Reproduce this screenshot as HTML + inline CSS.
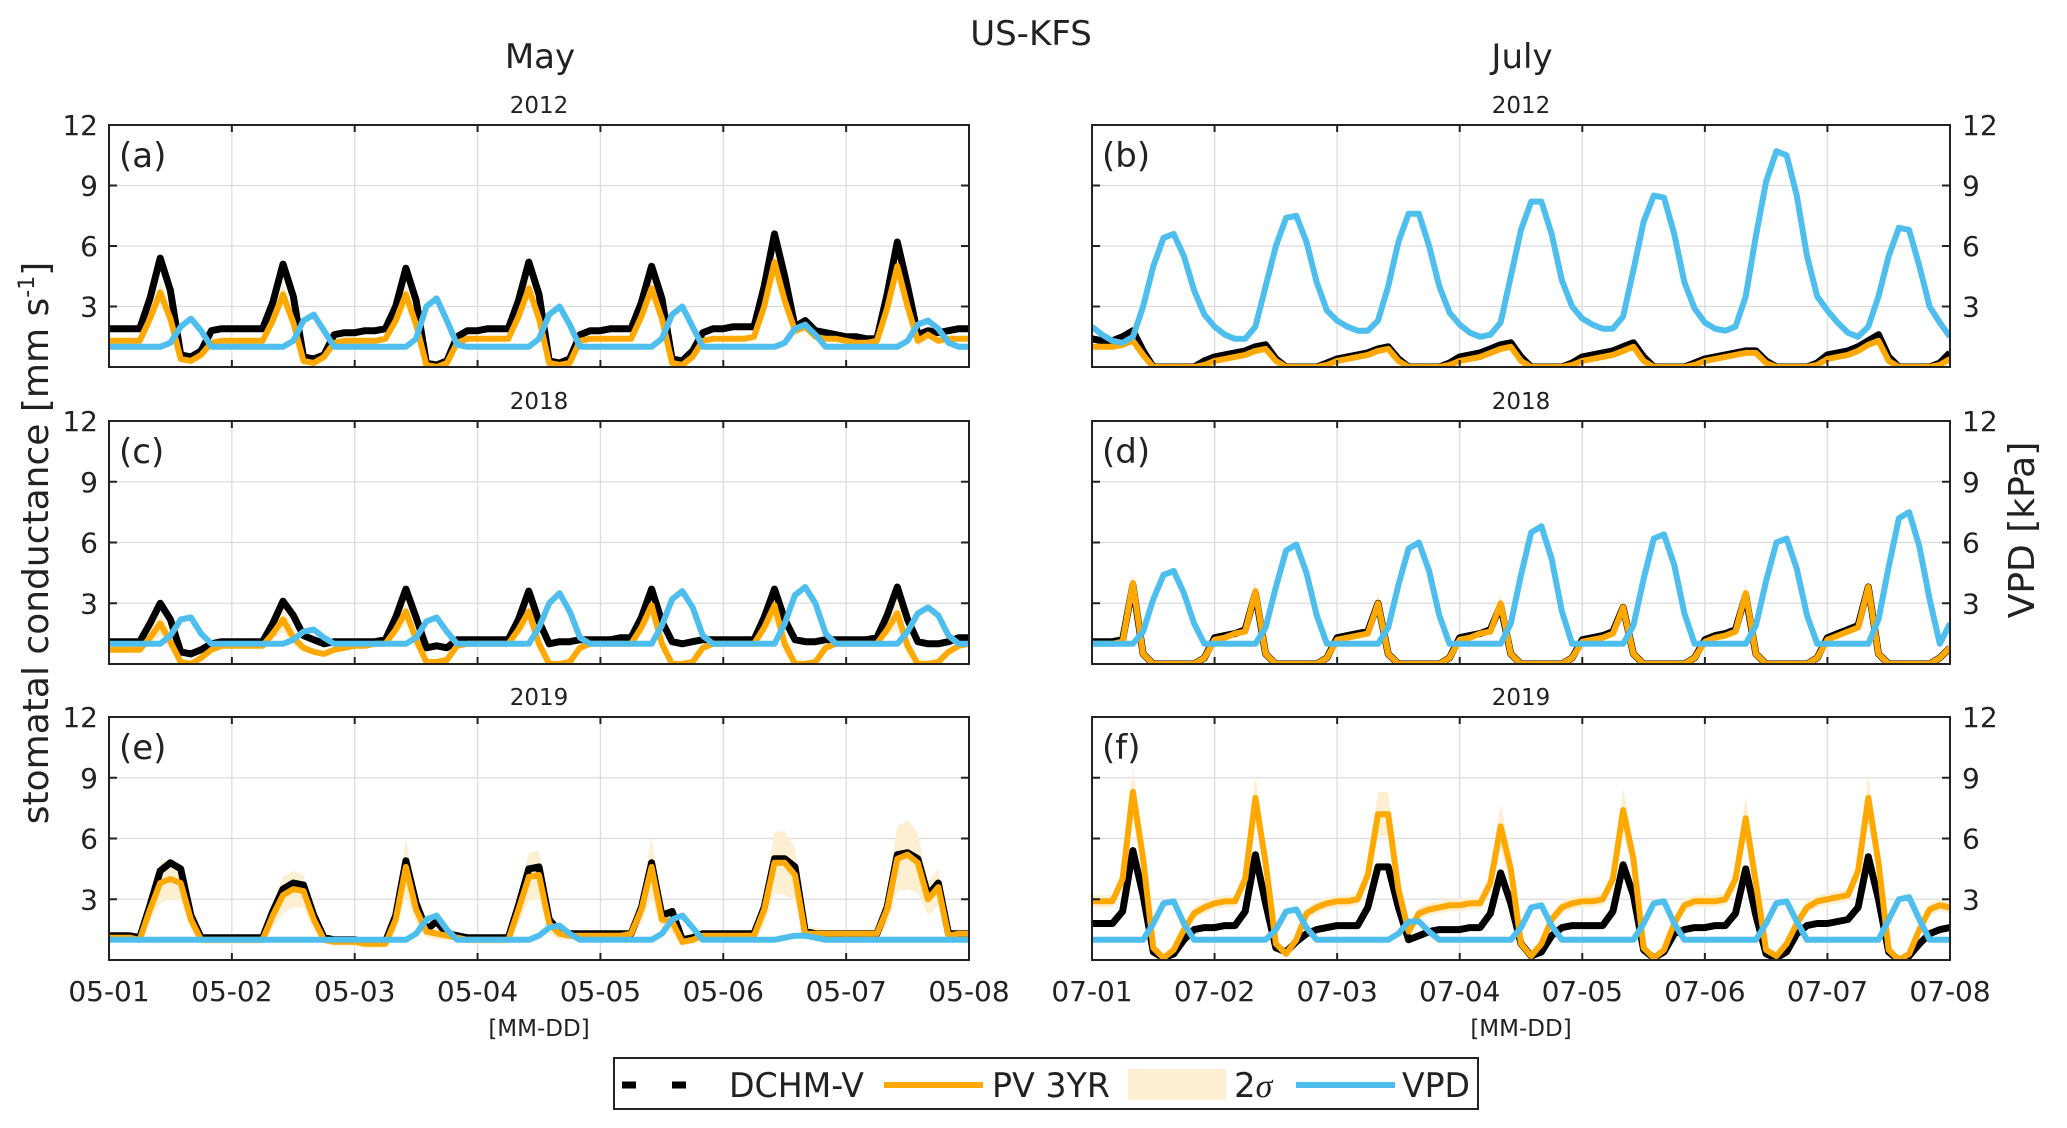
<!DOCTYPE html>
<html><head><meta charset="utf-8"><style>
html,body{margin:0;padding:0;background:#fff}
svg{display:block}
text{font-family:"DejaVu Sans","Liberation Sans",sans-serif;fill:#222}
</style></head><body>
<svg id="fig" width="2067" height="1128" viewBox="0 0 2067 1128" xmlns="http://www.w3.org/2000/svg">
<text x="1031" y="45" font-size="34" text-anchor="middle">US-KFS</text>
<text x="540" y="68" font-size="34" text-anchor="middle">May</text>
<text x="1522" y="68" font-size="34" text-anchor="middle">July</text>
<text transform="translate(48,543) rotate(-90)" font-size="36" text-anchor="middle">stomatal conductance [mm s<tspan font-size="22" dy="-14">-1</tspan><tspan dy="14">]</tspan></text>
<text transform="translate(2034,530) rotate(-90)" font-size="36" text-anchor="middle">VPD  [kPa]</text>
<g id="panels"></g>
<g>
<rect x="614" y="1058" width="864" height="51" fill="#fff" stroke="#222" stroke-width="2"/>
<line x1="622" y1="1085" x2="698" y2="1085" stroke="#000" stroke-width="7" stroke-dasharray="14,36"/>
<text x="729" y="1097" font-size="34" textLength="135" lengthAdjust="spacingAndGlyphs">DCHM-V</text>
<line x1="884" y1="1085" x2="983" y2="1085" stroke="#FFA800" stroke-width="6"/>
<text x="992" y="1097" font-size="34" textLength="118" lengthAdjust="spacingAndGlyphs">PV 3YR</text>
<rect x="1128" y="1069" width="98" height="31" fill="#FDEFD2"/>
<text x="1234" y="1097" font-size="34">2<tspan font-style="italic" font-family="Liberation Serif, serif">σ</tspan></text>
<line x1="1296" y1="1085" x2="1395" y2="1085" stroke="#4DBEEE" stroke-width="6"/>
<text x="1402" y="1097" font-size="34" textLength="68" lengthAdjust="spacingAndGlyphs">VPD</text>
</g>
</svg>
<script>
// 2-hourly values, 12 per day, 7 days + final point
const dchmA=[1.9,1.9,1.9,1.9,3.4,5.4,3.8,0.6,0.5,0.8,1.8,1.9, 1.9,1.9,1.9,1.9,3.2,5.1,3.5,0.5,0.4,0.6,1.6,1.7, 1.7,1.8,1.8,1.9,3.0,4.9,3.3,0.2,0.1,0.3,1.5,1.8, 1.8,1.9,1.9,1.9,3.3,5.2,3.6,0.3,0.2,0.4,1.6,1.8, 1.8,1.9,1.9,1.9,3.2,5.0,3.4,0.4,0.3,0.8,1.7,1.9, 1.9,2.0,2.0,2.0,4.0,6.6,4.5,2.0,2.3,1.8,1.7,1.6, 1.5,1.5,1.4,1.4,3.6,6.2,4.0,1.6,1.8,1.7,1.8,1.9, 1.9];
const pvA=[1.3,1.3,1.3,1.3,2.4,3.7,2.4,0.4,0.3,0.6,1.2,1.3, 1.3,1.3,1.3,1.3,2.3,3.6,2.2,0.3,0.2,0.5,1.2,1.3, 1.3,1.3,1.3,1.4,2.3,3.6,2.1,0.1,0.0,0.2,1.2,1.4, 1.4,1.4,1.4,1.4,2.5,3.9,2.4,0.2,0.1,0.2,1.3,1.4, 1.4,1.4,1.4,1.4,2.5,3.9,2.4,0.2,0.1,0.5,1.3,1.4, 1.4,1.4,1.4,1.5,3.0,5.2,3.3,1.8,2.0,1.5,1.4,1.4, 1.3,1.2,1.2,1.3,2.9,5.0,3.0,1.3,1.6,1.3,1.4,1.4, 1.4];
const sigA=[0.1,0.1,0.1,0.1,0.3,0.6,0.4,0.2,0.1,0.1,0.1,0.1, 0.1,0.1,0.1,0.1,0.3,0.6,0.4,0.2,0.1,0.1,0.1,0.1, 0.1,0.1,0.1,0.1,0.3,0.6,0.4,0.2,0.1,0.1,0.1,0.1, 0.1,0.1,0.1,0.1,0.3,0.6,0.4,0.2,0.1,0.1,0.1,0.1, 0.1,0.1,0.1,0.1,0.3,0.6,0.4,0.2,0.1,0.1,0.1,0.1, 0.1,0.1,0.1,0.1,0.3,0.8,0.5,0.3,0.2,0.1,0.1,0.1, 0.1,0.1,0.1,0.1,0.3,0.8,0.5,0.3,0.2,0.1,0.1,0.1, 0.1];
const vpdA=[1,1,1,1,1,1,1.2,2.0,2.4,1.8,1.0,1.0, 1,1,1,1,1,1,1.3,2.3,2.6,1.8,1.0,1.0, 1,1,1,1,1,1,1.4,3.0,3.4,2.3,1.1,1.0, 1,1,1,1,1,1,1.4,2.6,3.0,2.1,1.0,1.0, 1,1,1,1,1,1,1.4,2.6,3.0,2.0,1.0,1.0, 1,1,1,1,1,1,1.2,1.9,2.1,1.6,1.0,1.0, 1,1,1,1,1,1,1.3,2.1,2.3,1.9,1.2,1.0, 1.0];

const dchmB=[1.4,1.3,1.3,1.5,1.8,0.8,0,0,0,0,0,0.3, 0.5,0.6,0.7,0.8,1.0,1.1,0.4,0,0,0,0,0.2, 0.4,0.5,0.6,0.7,0.9,1.0,0.4,0,0,0,0,0.2, 0.5,0.6,0.7,0.9,1.1,1.2,0.5,0,0,0,0,0.2, 0.5,0.6,0.7,0.8,1.0,1.2,0.5,0,0,0,0,0.2, 0.4,0.5,0.6,0.7,0.8,0.8,0.3,0,0,0,0,0.2, 0.6,0.7,0.8,1.0,1.3,1.6,0.5,0,0,0,0,0.2, 0.7];
const pvB=[1.0,1.0,1.0,1.1,1.3,0.6,0,0,0,0,0,0.1, 0.3,0.4,0.5,0.6,0.8,0.9,0.3,0,0,0,0,0.1, 0.3,0.4,0.5,0.6,0.8,0.9,0.3,0,0,0,0,0.1, 0.3,0.4,0.5,0.7,0.9,1.0,0.3,0,0,0,0,0.1, 0.3,0.4,0.5,0.6,0.8,1.0,0.3,0,0,0,0,0.1, 0.3,0.4,0.5,0.6,0.7,0.7,0.2,0,0,0,0,0.1, 0.4,0.5,0.6,0.8,1.1,1.3,0.3,0,0,0,0,0.1, 0.4];
const sigB=[0.1,0.1,0.1,0.1,0.1,0.1,0,0,0,0,0,0, 0.1,0.1,0.1,0.1,0.1,0.1,0,0,0,0,0,0, 0.1,0.1,0.1,0.1,0.1,0.1,0,0,0,0,0,0, 0.1,0.1,0.1,0.1,0.1,0.1,0,0,0,0,0,0, 0.1,0.1,0.1,0.1,0.1,0.1,0,0,0,0,0,0, 0.1,0.1,0.1,0.1,0.1,0.1,0,0,0,0,0,0, 0.1,0.1,0.1,0.1,0.1,0.1,0,0,0,0,0,0, 0.1];
const vpdB=[2.0,1.6,1.3,1.2,1.5,3.0,5.0,6.4,6.6,5.5,3.8,2.6, 2.0,1.6,1.4,1.4,2.0,4.0,6.0,7.4,7.5,6.2,4.2,2.8, 2.3,2.0,1.8,1.8,2.3,4.0,6.2,7.6,7.6,6.0,4.0,2.7, 2.1,1.7,1.5,1.6,2.2,4.5,6.8,8.2,8.2,6.6,4.3,3.0, 2.4,2.1,1.9,1.9,2.5,4.8,7.2,8.5,8.4,6.6,4.2,2.9, 2.2,1.9,1.8,2.0,3.5,6.5,9.2,10.7,10.5,8.5,5.5,3.5, 2.8,2.2,1.7,1.5,2.0,3.5,5.5,6.9,6.8,5.0,3.0,2.2, 1.5];

const dchmC=[1.1,1.1,1.1,1.1,2.0,3.0,2.2,0.6,0.5,0.7,1.0,1.1, 1.1,1.1,1.1,1.1,2.0,3.1,2.4,1.4,1.2,1.0,1.1,1.1, 1.1,1.1,1.1,1.2,2.3,3.7,2.3,0.8,0.9,0.8,1.2,1.2, 1.2,1.2,1.2,1.2,2.2,3.6,2.1,1.0,1.1,1.1,1.2,1.2, 1.2,1.2,1.3,1.3,2.3,3.7,2.1,1.1,1.0,1.1,1.2,1.2, 1.2,1.2,1.2,1.2,2.3,3.7,2.2,1.2,1.1,1.1,1.2,1.2, 1.2,1.2,1.2,1.3,2.4,3.8,2.2,1.1,1.0,1.0,1.1,1.3, 1.3];
const pvC=[0.7,0.7,0.7,0.7,1.3,2.0,1.1,0.1,0.0,0.3,0.7,0.9, 0.9,0.9,0.9,0.9,1.5,2.2,1.3,0.8,0.6,0.5,0.7,0.8, 0.9,0.9,1.0,1.0,1.7,2.6,1.2,0.1,0.1,0.2,0.9,1.0, 1.0,1.0,1.0,1.0,1.7,2.6,1.0,0.0,0.0,0.1,0.8,1.0, 1.0,1.0,1.0,1.0,1.8,2.9,1.0,0.0,0.0,0.1,0.8,1.0, 1.0,1.0,1.0,1.0,1.8,2.9,1.0,0.0,0.0,0.1,0.8,1.0, 1.0,1.0,1.0,1.0,1.7,2.5,0.9,0.0,0.0,0.1,0.6,0.9, 1.0];
const sigC=sigA.slice();
const vpdC=[1,1,1,1,1,1,1.4,2.2,2.3,1.5,1.0,1.0, 1,1,1,1,1,1,1.2,1.6,1.7,1.3,1.0,1.0, 1,1,1,1,1,1,1.3,2.1,2.3,1.6,1.0,1.0, 1,1,1,1,1,1,1.8,3.0,3.5,2.6,1.3,1.0, 1,1,1,1,1,1,1.9,3.2,3.6,2.8,1.4,1.0, 1,1,1,1,1,1,2.0,3.4,3.8,3.0,1.5,1.0, 1,1,1,1,1,1,1.6,2.5,2.8,2.4,1.4,1.0, 1.0];

const dchmD=[1.1,1.1,1.1,1.2,3.9,0.5,0,0,0,0,0,0.3, 1.3,1.4,1.5,1.7,3.5,0.5,0,0,0,0,0,0.3, 1.3,1.4,1.5,1.6,3.0,0.5,0,0,0,0,0,0.3, 1.3,1.4,1.5,1.7,2.9,0.5,0,0,0,0,0,0.3, 1.2,1.3,1.4,1.6,2.8,0.5,0,0,0,0,0,0.3, 1.2,1.4,1.5,1.7,3.4,0.5,0,0,0,0,0,0.3, 1.3,1.5,1.7,1.9,3.8,0.5,0,0,0,0,0,0.3, 0.8];
const pvD=[1.0,1.0,1.0,1.1,4.0,0.5,0,0,0,0,0,0.3, 1.2,1.3,1.5,1.6,3.6,0.5,0,0,0,0,0,0.3, 1.2,1.3,1.4,1.5,3.0,0.5,0,0,0,0,0,0.3, 1.2,1.3,1.5,1.6,3.0,0.5,0,0,0,0,0,0.3, 1.1,1.2,1.3,1.5,2.8,0.5,0,0,0,0,0,0.3, 1.1,1.3,1.4,1.6,3.5,0.5,0,0,0,0,0,0.3, 1.2,1.4,1.6,1.8,3.8,0.5,0,0,0,0,0,0.3, 0.8];
const sigD=[0.1,0.1,0.1,0.1,0.5,0.1,0,0,0,0,0,0, 0.1,0.1,0.1,0.1,0.5,0.1,0,0,0,0,0,0, 0.1,0.1,0.1,0.1,0.5,0.1,0,0,0,0,0,0, 0.1,0.1,0.1,0.1,0.5,0.1,0,0,0,0,0,0, 0.1,0.1,0.1,0.1,0.5,0.1,0,0,0,0,0,0, 0.1,0.1,0.1,0.1,0.5,0.1,0,0,0,0,0,0, 0.1,0.1,0.1,0.1,0.5,0.1,0,0,0,0,0,0, 0.1];
const vpdD=[1,1,1,1,1,1.6,3.2,4.4,4.6,3.5,2.0,1.0, 1,1,1,1,1,1.8,3.8,5.6,5.9,4.5,2.4,1.0, 1,1,1,1,1,1.8,3.9,5.7,6.0,4.6,2.4,1.0, 1,1,1,1,1,2.0,4.4,6.5,6.8,5.2,2.6,1.0, 1,1,1,1,1,1.9,4.2,6.2,6.4,4.9,2.5,1.0, 1,1,1,1,1,1.9,4.1,6.0,6.2,4.7,2.4,1.0, 1,1,1,1,1,2.2,4.8,7.2,7.5,5.8,3.2,1.0, 2.0];

const dchmE=[1.2,1.2,1.2,1.1,2.7,4.4,4.8,4.5,2.2,1.1,1.1,1.1, 1.1,1.1,1.1,1.1,2.4,3.5,3.8,3.7,2.2,1.1,1.0,1.0, 1.0,0.9,0.9,0.9,2.2,4.9,2.8,1.5,1.9,1.3,1.2,1.1, 1.1,1.1,1.1,1.1,2.7,4.5,4.6,2.0,1.4,1.3,1.3,1.3, 1.3,1.3,1.3,1.3,2.6,4.8,2.2,2.4,1.0,1.1,1.3,1.3, 1.3,1.3,1.3,1.3,2.6,5.0,5.0,4.6,1.4,1.3,1.3,1.3, 1.3,1.3,1.3,1.3,2.6,5.2,5.3,5.0,3.2,3.8,1.3,1.3, 1.3];
const pvE=[1.1,1.1,1.1,1.0,2.5,3.8,4.0,3.8,2.0,1.0,1.0,1.0, 1.0,1.0,1.0,1.0,2.2,3.2,3.5,3.4,2.0,1.0,0.9,0.9, 0.9,0.8,0.8,0.8,2.0,4.6,2.5,1.4,1.3,1.2,1.1,1.0, 1.0,1.0,1.0,1.0,2.5,4.1,4.2,1.8,1.3,1.2,1.2,1.2, 1.2,1.2,1.2,1.3,2.5,4.6,2.0,1.9,0.9,1.0,1.2,1.2, 1.2,1.2,1.2,1.2,2.5,4.8,4.8,4.2,1.3,1.3,1.3,1.3, 1.3,1.3,1.3,1.3,2.5,5.0,5.2,4.8,3.0,3.6,1.2,1.3, 1.3];
const sigE=[0.2,0.2,0.2,0.2,0.6,1.0,1.0,0.9,0.5,0.2,0.2,0.2, 0.2,0.2,0.2,0.2,0.6,0.9,0.9,0.8,0.5,0.2,0.2,0.2, 0.2,0.2,0.2,0.2,0.6,1.4,0.7,0.3,0.3,0.2,0.2,0.2, 0.2,0.2,0.2,0.2,0.7,1.2,1.2,0.5,0.3,0.2,0.2,0.2, 0.2,0.2,0.2,0.2,0.7,1.5,0.6,0.5,0.2,0.2,0.2,0.2, 0.2,0.2,0.2,0.2,0.8,1.5,1.6,1.3,0.3,0.3,0.2,0.2, 0.2,0.2,0.2,0.2,0.8,1.6,1.7,1.5,0.8,0.9,0.2,0.2, 0.2];
const vpdE=[1,1,1,1,1,1,1,1,1,1,1,1, 1,1,1,1,1,1,1,1,1,1,1,1, 1,1,1,1,1,1,1.3,2.0,2.2,1.5,1,1, 1,1,1,1,1,1,1.2,1.6,1.7,1.3,1,1, 1,1,1,1,1,1,1.3,2.0,2.2,1.6,1,1, 1,1,1,1,1,1,1.1,1.2,1.2,1.1,1,1, 1,1,1,1,1,1,1,1,1,1,1,1, 1.0];

const dchmF=[1.8,1.8,1.8,2.4,5.4,3.2,0.4,0.1,0.3,1.0,1.5,1.6, 1.6,1.7,1.7,2.4,5.2,2.8,0.6,0.4,0.9,1.3,1.5,1.6, 1.7,1.7,1.7,2.6,4.6,4.6,2.6,1.0,1.2,1.4,1.5,1.5, 1.5,1.6,1.6,2.3,4.3,2.8,0.8,0.2,0.4,1.2,1.6,1.7, 1.7,1.7,1.7,2.4,4.7,3.2,0.5,0.1,0.4,1.3,1.5,1.6, 1.6,1.7,1.7,2.3,4.5,2.2,0.3,0.1,0.4,1.3,1.7,1.8, 1.8,1.9,2.0,2.6,5.1,3.0,0.4,0.0,0.2,0.8,1.3,1.5, 1.6];
const pvF=[2.9,2.9,2.9,4.0,8.3,5.0,0.6,0.1,0.5,1.5,2.3,2.6, 2.8,2.9,2.9,4.0,8.0,4.8,0.8,0.3,1.0,2.3,2.6,2.8, 2.9,2.9,3.0,4.2,7.2,7.2,3.5,1.4,2.3,2.5,2.6,2.7, 2.7,2.8,2.8,3.8,6.6,4.5,0.8,0.2,0.8,2.0,2.6,2.8, 2.9,2.9,3.0,4.0,7.4,5.0,0.6,0.1,0.5,1.8,2.7,2.9, 2.9,2.9,3.0,4.0,7.0,3.8,0.5,0.2,0.8,1.8,2.6,2.9, 3.0,3.1,3.2,4.4,8.0,4.8,0.5,0.0,0.3,1.5,2.5,2.7, 2.6];
const sigF=[0.3,0.3,0.3,0.5,1.2,0.6,0.2,0.1,0.2,0.3,0.3,0.3, 0.3,0.3,0.3,0.5,1.2,0.6,0.2,0.1,0.2,0.3,0.3,0.3, 0.3,0.3,0.3,0.5,1.1,1.1,0.6,0.2,0.3,0.3,0.3,0.3, 0.3,0.3,0.3,0.5,1.1,0.7,0.2,0.1,0.2,0.3,0.3,0.3, 0.3,0.3,0.3,0.5,1.1,0.7,0.2,0.1,0.2,0.3,0.3,0.3, 0.3,0.3,0.3,0.5,1.1,0.5,0.2,0.1,0.2,0.3,0.3,0.3, 0.3,0.3,0.3,0.5,1.2,0.6,0.2,0.1,0.2,0.3,0.3,0.3, 0.3];
const vpdF=[1,1,1,1,1,1,1.8,2.8,2.9,1.8,1.0,1.0, 1,1,1,1,1,1,1.5,2.4,2.5,1.6,1,1, 1,1,1,1,1,1,1.3,1.9,1.9,1.4,1,1, 1,1,1,1,1,1,1.6,2.6,2.7,1.7,1,1, 1,1,1,1,1,1,1.8,2.8,2.9,1.8,1,1, 1,1,1,1,1,1,1.8,2.8,2.9,1.9,1,1, 1,1,1,1,1,1,2.0,3.0,3.1,2.0,1,1, 1.0];

const mayTicks=["05-01","05-02","05-03","05-04","05-05","05-06","05-07","05-08"];
const julTicks=["07-01","07-02","07-03","07-04","07-05","07-06","07-07","07-08"];
const yTicks=[3,6,9,12];
const years=["2012","2018","2019"];
const STEP=2/24; // 2-hourly samples, in days

const NS="http://www.w3.org/2000/svg";
const root=document.getElementById('panels');
function mk(tag,attrs,parent){const e=document.createElementNS(NS,tag);for(const k in attrs)e.setAttribute(k,attrs[k]);(parent||root).appendChild(e);return e;}

const panels=[
 {id:'a',x0:109,x1:969,y0:125,y1:367,left:true,row:0,d:dchmA,p:pvA,s:sigA,v:vpdA,t:mayTicks},
 {id:'b',x0:1092,x1:1950,y0:125,y1:367,left:false,row:0,d:dchmB,p:pvB,s:sigB,v:vpdB,t:julTicks},
 {id:'c',x0:109,x1:969,y0:421,y1:664,left:true,row:1,d:dchmC,p:pvC,s:sigC,v:vpdC,t:mayTicks},
 {id:'d',x0:1092,x1:1950,y0:421,y1:664,left:false,row:1,d:dchmD,p:pvD,s:sigD,v:vpdD,t:julTicks},
 {id:'e',x0:109,x1:969,y0:717,y1:960,left:true,row:2,d:dchmE,p:pvE,s:sigE,v:vpdE,t:mayTicks},
 {id:'f',x0:1092,x1:1950,y0:717,y1:960,left:false,row:2,d:dchmF,p:pvF,s:sigF,v:vpdF,t:julTicks}
];

panels.forEach(P=>{
  const g=mk('g',{});
  
  
  const xs=t=>P.x0+(t/7)*(P.x1-P.x0);
  const ys=v=>P.y1-(Math.max(0,v)/12)*(P.y1-P.y0);
  const cp=mk('clipPath',{id:'clip'+P.id},g);
  mk('rect',{x:P.x0,y:P.y0,width:P.x1-P.x0,height:P.y1-P.y0},cp);
  mk('rect',{x:P.x0,y:P.y0,width:P.x1-P.x0,height:P.y1-P.y0,fill:'#fff'},g);
  for(let i=1;i<7;i++){const l=mk('line',{x1:xs(i),x2:xs(i),y1:P.y0,y2:P.y1,stroke:'#dcdcdc','stroke-width':1.3},g);
    
    }
  yTicks.forEach(v=>{if(v<12){const l=mk('line',{x1:P.x0,x2:P.x1,y1:ys(v),y2:ys(v),stroke:'#dcdcdc','stroke-width':1.3},g);
    
    }});
  const dg=mk('g',{'clip-path':'url(#clip'+P.id+')'},g);
  const n=P.p.length;
  let up=[],lo=[];
  for(let i=0;i<n;i++){up.push(xs(i*STEP).toFixed(1)+','+ys(P.p[i]+P.s[i]).toFixed(1));lo.unshift(xs(i*STEP).toFixed(1)+','+ys(P.p[i]-P.s[i]).toFixed(1));}
  const band=mk('polygon',{points:up.concat(lo).join(' '),fill:'#FDEFD2'},dg);
  
  
  const line=(arr,col,w,name)=>{const pts=arr.map((v,i)=>xs(i*STEP).toFixed(1)+','+ys(v).toFixed(1)).join(' ');
    const pl=mk('polyline',{points:pts,fill:'none',stroke:col,'stroke-width':w,'stroke-linejoin':'round'},dg);
    
    };
  line(P.d,'#000',7,'dchm-line-'+P.id);
  line(P.p,'#FFA800',6,'pv-line-'+P.id);
  line(P.v,'#4DBEEE',6,'vpd-line-'+P.id);
  mk('rect',{x:P.x0,y:P.y0,width:P.x1-P.x0,height:P.y1-P.y0,fill:'none',stroke:'#222','stroke-width':2},g);
  for(let i=1;i<7;i++){mk('line',{x1:xs(i),x2:xs(i),y1:P.y1,y2:P.y1-7,stroke:'#222','stroke-width':2},g);mk('line',{x1:xs(i),x2:xs(i),y1:P.y0,y2:P.y0+7,stroke:'#222','stroke-width':2},g);}
  yTicks.forEach(v=>{mk('line',{x1:P.x0,x2:P.x0+8,y1:ys(v),y2:ys(v),stroke:'#222','stroke-width':2},g);mk('line',{x1:P.x1,x2:P.x1-8,y1:ys(v),y2:ys(v),stroke:'#222','stroke-width':2},g);
    const tl=mk('text',{x:P.left?P.x0-11:P.x1+12,y:ys(v)+10,'font-size':28,'text-anchor':P.left?'end':'start'},g);
    tl.textContent=v;
    
    });
  const yt=mk('text',{x:(P.x0+P.x1)/2,y:P.y0-12,'font-size':23,'text-anchor':'middle'},g);
  yt.textContent=years[P.row];
  
  
  const lab=mk('text',{x:P.x0+10,y:P.y0+42,'font-size':34},g);
  lab.textContent='('+P.id+')';
  
  
  if(P.row===2){
    P.t.forEach((s,i)=>{const tx=mk('text',{x:xs(i),y:P.y1+41,'font-size':28,'text-anchor':'middle'},g);
      tx.textContent=s;
      
      });
    const xt=mk('text',{x:(P.x0+P.x1)/2,y:P.y1+76,'font-size':23,'text-anchor':'middle'},g);
    xt.textContent='[MM-DD]';
    
    
  }
});
</script>
</body></html>
